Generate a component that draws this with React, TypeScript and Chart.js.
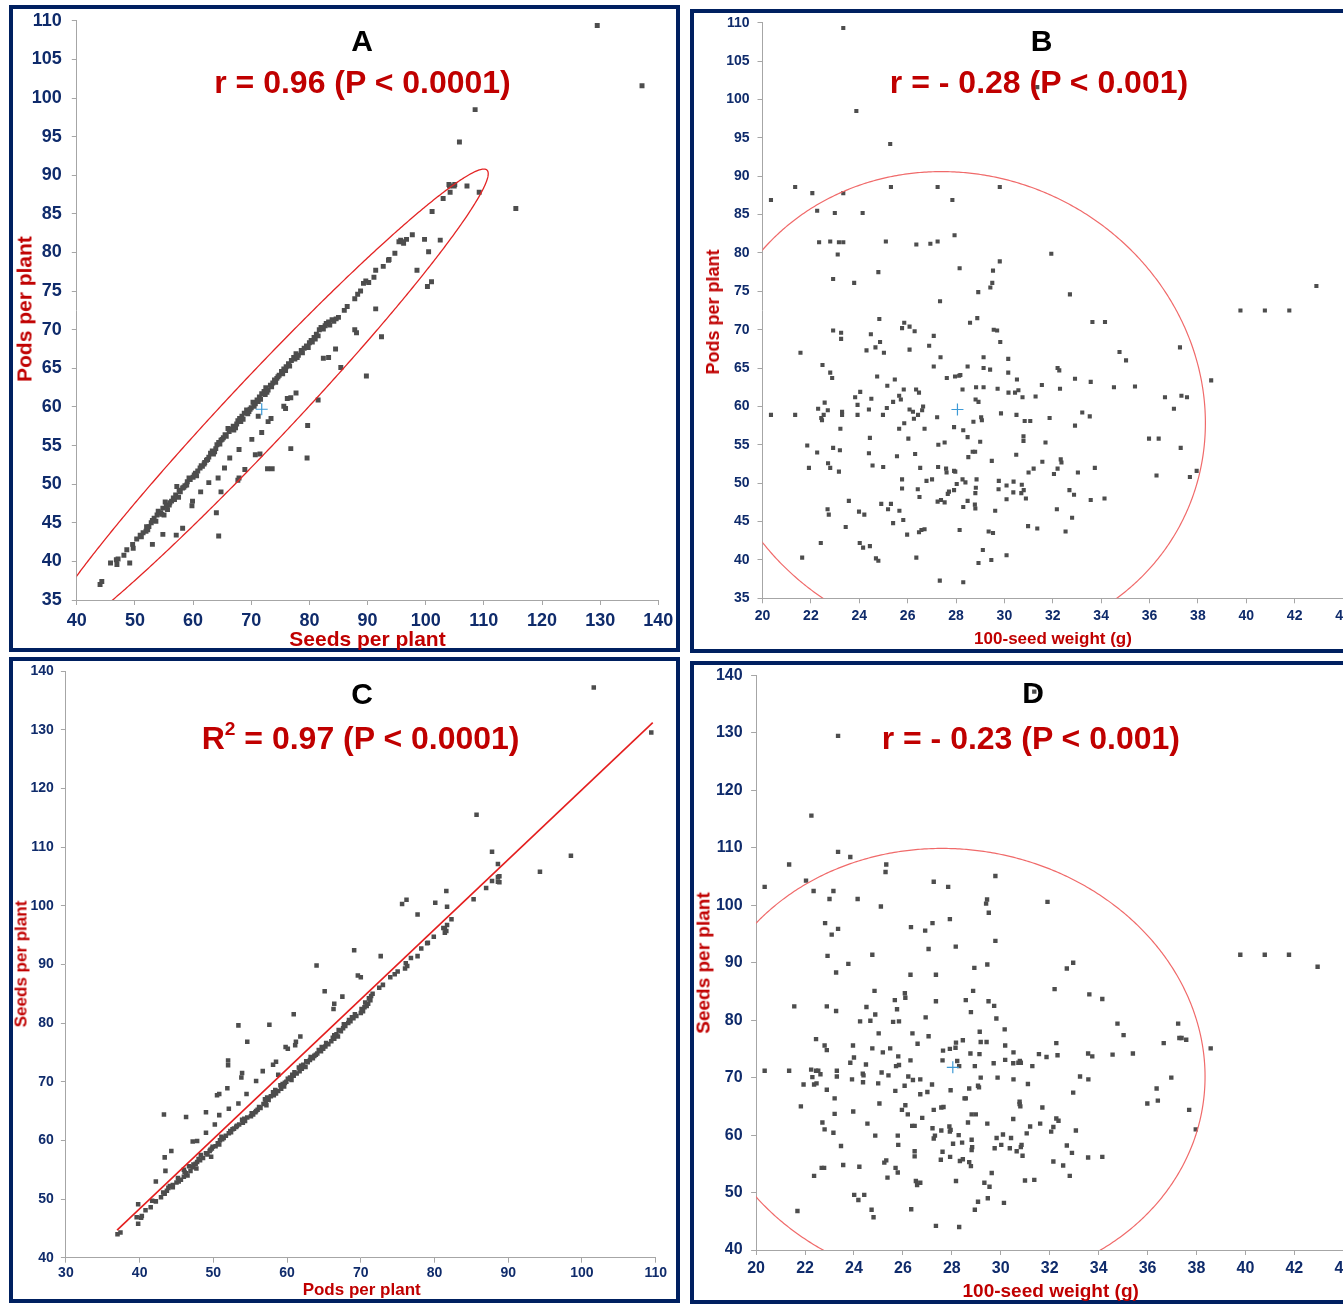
import React, { useEffect, useRef } from "react";
import { Chart, registerables } from "chart.js";

Chart.register(...registerables);

const FONT = '"Liberation Sans", Arial, Helvetica, sans-serif';
const NAVY = "#0f2b6b";
const BORDER = "#002060";
const RED = "#c00000";
const AXIS = "#a6a6a6";
const MARK = "#4d4d4d";

// Panel A / C : [seeds per plant, pods per plant]
const seedsPods: number[][] = [
  [44.0, 37.0], [44.3, 37.4], [45.8, 39.8], [46.8, 40.2], [46.9, 39.6], [47.1, 40.3], [48.1, 40.8], [48.6, 41.5],
  [49.6, 42.2], [49.7, 41.7], [50.9, 43.4], [51.4, 43.7], [51.9, 43.9], [52.2, 44.1], [52.4, 44.5], [52.8, 45.0],
  [53.3, 45.6], [53.6, 45.2], [54.0, 46.5], [54.4, 46.3], [54.8, 46.9], [55.0, 46.0], [55.2, 47.7], [55.6, 46.7],
  [55.9, 47.3], [56.3, 47.8], [56.6, 48.2], [57.0, 48.6], [57.2, 49.7], [57.5, 48.3], [57.8, 49.0], [58.2, 49.5],
  [58.6, 49.8], [59.0, 50.3], [59.5, 50.6], [60.0, 50.9], [60.4, 51.4], [60.8, 51.7], [61.2, 52.1], [61.6, 52.3],
  [62.0, 52.8], [62.3, 53.1], [62.7, 53.5], [63.0, 54.0], [63.3, 54.3], [63.7, 54.2], [64.1, 55.1], [64.4, 55.4],
  [64.8, 55.7], [65.2, 56.0], [65.7, 56.2], [66.0, 57.2], [66.5, 57.1], [66.9, 57.5], [67.3, 57.3], [67.7, 58.2],
  [68.0, 58.5], [68.4, 58.8], [68.8, 59.2], [69.2, 59.6], [69.6, 59.4], [70.0, 59.9], [70.3, 60.6], [70.7, 60.4],
  [71.0, 60.9], [71.4, 61.3], [71.8, 61.7], [72.2, 62.0], [72.5, 62.5], [72.9, 62.2], [73.3, 62.8], [73.7, 63.1],
  [74.0, 63.5], [74.4, 63.7], [74.8, 64.1], [75.2, 64.6], [75.6, 64.9], [76.0, 65.2], [76.4, 65.6], [76.9, 66.0],
  [77.3, 66.4], [77.7, 66.9], [78.1, 66.7], [78.6, 67.3], [79.1, 67.6], [79.5, 67.9], [80.0, 68.3], [80.3, 68.6],
  [80.8, 69.0], [81.2, 69.4], [81.7, 70.0], [82.0, 70.3], [82.4, 70.1], [82.9, 70.8], [83.3, 71.0], [83.5, 70.6],
  [84.2, 71.1], [85.0, 71.6], [86.5, 73.0], [87.8, 74.0], [88.8, 75.0], [89.3, 76.0], [89.7, 76.3], [91.1, 76.8],
  [91.4, 77.7], [92.7, 78.2], [93.6, 79.0], [94.7, 79.9], [95.4, 81.4], [95.7, 81.6], [96.2, 81.2], [96.7, 81.7],
  [97.7, 82.3], [101.1, 85.3], [103.0, 87.0], [104.1, 88.6], [104.2, 87.8], [104.9, 88.6], [107.1, 88.6],
  [53.0, 45.3], [56.0, 47.6], [58.9, 49.9], [60.2, 51.2], [61.9, 52.6], [63.5, 53.9], [65.0, 55.8], [67.0, 57.0],
  [68.6, 58.4], [69.8, 59.7], [71.2, 60.7], [72.7, 61.9], [74.2, 63.2], [75.9, 64.7], [77.5, 66.2], [79.8, 67.7],
  [81.5, 69.2], [83.9, 71.3],
  [50.3, 42.9], [51.1, 43.2], [52.0, 44.5], [53.8, 46.0], [54.6, 46.1], [55.4, 47.2], [56.8, 48.0], [57.6, 49.2],
  [58.4, 49.6], [59.3, 50.8], [60.6, 51.1], [61.4, 52.4], [62.5, 53.2], [63.9, 54.6], [64.6, 55.2], [65.5, 56.4],
  [66.2, 56.8], [67.5, 57.8], [68.2, 58.1], [69.4, 59.1], [70.5, 60.1], [71.6, 61.0], [72.4, 61.6], [73.5, 62.6],
  [74.6, 63.9], [75.4, 64.3], [76.6, 65.3], [77.9, 66.4], [78.8, 67.0], [80.5, 68.4], [81.0, 68.8], [82.7, 70.5],
  [84.6, 71.4], [86.0, 72.5], [88.3, 74.6], [90.2, 76.1],
  [49.1, 39.8], [53.0, 42.2], [54.8, 43.5], [57.1, 43.4], [58.2, 44.3], [59.8, 47.2], [59.9, 47.8], [61.3, 49.0],
  [62.7, 50.2], [64.0, 46.3], [64.4, 43.3], [64.8, 49.0], [64.3, 50.8], [65.4, 52.1], [66.3, 53.4], [67.7, 50.5],
  [67.9, 50.8], [67.9, 54.5], [68.9, 51.9], [70.1, 55.8], [70.7, 53.8], [71.5, 53.9], [71.8, 56.7], [72.8, 52.0],
  [73.6, 52.0], [72.9, 58.1], [73.4, 58.5], [71.2, 58.8], [75.6, 60.1], [75.9, 59.8], [76.2, 61.1], [76.8, 61.2],
  [77.7, 61.8], [76.8, 54.6], [79.6, 53.4], [79.7, 57.6], [81.5, 60.9], [82.4, 66.3], [83.3, 66.4], [84.5, 67.5],
  [85.4, 65.1], [89.8, 64.0], [92.4, 69.1], [87.8, 70.0], [88.1, 69.6], [91.4, 72.7], [98.5, 77.7], [99.8, 81.7],
  [100.5, 80.1], [101.0, 76.2], [100.3, 75.6], [102.5, 81.6], [109.2, 87.8], [115.5, 85.7], [105.8, 94.3],
  [108.5, 98.5], [129.5, 109.4], [137.2, 101.6], [105.0, 88.8], [104.0, 88.8], [96.1, 81.4], [93.7, 79.1],
];

// Panel B : [100-seed weight (g), pods per plant]
const weightPods: number[][] = [
  [23.34, 109.3], [23.88, 98.5], [25.28, 94.2], [31.36, 101.6], [20.35, 86.9], [21.35, 88.6], [22.06, 87.8],
  [23.34, 87.8], [25.31, 88.6], [27.24, 88.6], [29.81, 88.6], [27.85, 86.9], [22.26, 85.5], [22.99, 85.2],
  [24.14, 85.2], [22.34, 81.4], [22.8, 81.5], [23.16, 81.4], [23.34, 81.4], [23.11, 79.8], [25.1, 81.5],
  [26.36, 81.1], [26.94, 81.2], [27.24, 81.5], [27.94, 82.3], [31.94, 79.9], [22.92, 76.6], [23.79, 76.1],
  [24.79, 77.5], [28.15, 78.0], [29.53, 77.7], [29.81, 78.9], [29.5, 76.1], [29.42, 75.5], [28.92, 74.9],
  [27.34, 73.7], [32.71, 74.6], [39.76, 72.5], [40.77, 72.5], [41.78, 72.5], [42.9, 75.7], [24.83, 71.4],
  [25.86, 70.9], [25.77, 70.2], [26.08, 70.4], [26.29, 69.8], [28.58, 70.9], [28.88, 71.5], [29.56, 70.0],
  [29.7, 69.9], [33.64, 71.0], [34.16, 71.0], [22.92, 69.9],
  [20.35, 58.9], [21.35, 58.9], [21.57, 67.0], [23.25, 69.6], [23.25, 68.8], [22.48, 65.4], [22.8, 64.4],
  [22.88, 63.7], [22.3, 59.7], [22.7, 59.5], [22.53, 58.9], [22.43, 58.5], [22.46, 58.2], [22.57, 60.5],
  [23.29, 59.3], [23.29, 58.9], [23.22, 57.1], [21.85, 54.9], [21.92, 52.0], [22.26, 54.0], [22.71, 52.6],
  [22.8, 52.0], [22.92, 54.6], [23.2, 54.3], [23.16, 51.5], [22.41, 42.2], [21.64, 40.3], [22.69, 46.6],
  [22.74, 45.9], [23.57, 47.7], [23.44, 44.3], [23.83, 61.2], [24.04, 61.9], [23.93, 60.2], [23.93, 58.9],
  [24.4, 59.6], [24.5, 61.0], [24.3, 67.3], [24.67, 67.7], [24.48, 69.4], [24.86, 68.4], [25.02, 67.0],
  [24.74, 63.9], [24.44, 55.9], [24.4, 53.9], [24.55, 52.3], [24.99, 52.1], [25.14, 59.8], [24.98, 58.9],
  [25.16, 62.7], [25.47, 63.5], [25.4, 60.6], [25.65, 61.4], [25.72, 60.9], [25.65, 57.1], [25.86, 57.8],
  [25.56, 53.5], [25.77, 50.5], [25.77, 49.3], [26.31, 53.8], [26.03, 55.8], [26.08, 59.6], [26.22, 59.3],
  [26.26, 58.4], [26.43, 58.9], [25.84, 62.2], [26.35, 62.2], [26.47, 61.8], [26.08, 67.4], [26.64, 60.0],
  [26.6, 59.5], [26.7, 57.1], [26.52, 52.0], [26.78, 50.3], [27.01, 50.5], [26.42, 49.2], [26.49, 48.2],
  [24.91, 47.3], [25.31, 47.3], [25.19, 46.6], [25.66, 46.4], [25.4, 44.8], [25.82, 45.2], [25.98, 43.3],
  [26.47, 43.6], [26.57, 43.9], [26.7, 44.0], [23.99, 46.3], [24.21, 45.9], [24.02, 42.2], [24.16, 41.6],
  [24.44, 41.8], [24.69, 40.2], [24.79, 39.9], [26.36, 40.3], [27.33, 37.3], [28.3, 37.1], [28.93, 39.6],
  [29.46, 40.0], [30.09, 40.6], [29.11, 41.3], [29.35, 43.7], [29.53, 43.5], [28.15, 43.9], [28.3, 46.9],
  [28.78, 47.2], [28.48, 47.7], [28.8, 46.7], [29.62, 46.4], [27.24, 47.6], [27.38, 47.8], [27.53, 47.5],
  [27.66, 48.6], [27.71, 48.9], [27.92, 49.1], [28.03, 49.9], [28.27, 50.5], [28.39, 50.1], [27.26, 52.1],
  [27.59, 51.9], [27.61, 51.4], [27.92, 51.6], [27.97, 51.5], [28.85, 50.5], [28.82, 49.4], [28.8, 48.7],
  [29.77, 50.3], [30.09, 49.7], [29.76, 49.2], [30.38, 50.2], [30.72, 49.8], [30.7, 48.7], [30.8, 49.1],
  [30.89, 48.0], [30.09, 47.9], [30.37, 48.8], [31.0, 51.4], [31.21, 51.9], [30.98, 44.4], [31.36, 44.1],
  [32.53, 43.7], [32.17, 46.6], [32.8, 45.5], [32.69, 49.1], [32.88, 48.5], [33.04, 51.4], [33.57, 47.8],
  [34.14, 48.0], [33.74, 52.0], [32.05, 51.2], [32.2, 51.9], [32.36, 52.7], [32.33, 53.1], [31.57, 52.8],
  [31.7, 55.3], [30.79, 55.5], [30.79, 56.1], [30.49, 53.7], [29.48, 52.9], [29.0, 55.4], [28.69, 54.1],
  [28.79, 54.1], [28.51, 53.4], [28.48, 56.0], [28.3, 56.9], [27.92, 57.3], [27.27, 55.0], [27.53, 55.3],
  [27.22, 58.6], [28.72, 58.0], [29.07, 58.2], [29.04, 58.6], [28.81, 60.9], [28.93, 60.6], [28.27, 62.2],
  [27.96, 63.9], [28.13, 64.0], [28.18, 64.1], [27.62, 63.7], [27.08, 65.2], [27.36, 66.4], [26.89, 67.9],
  [27.08, 69.2], [28.48, 65.2], [28.83, 62.5], [29.14, 62.5], [29.14, 66.4], [29.14, 65.0], [29.41, 64.8],
  [29.83, 68.4], [29.72, 62.3], [29.86, 59.1], [30.16, 66.2], [30.16, 64.4], [30.17, 61.8], [30.44, 61.8],
  [30.58, 62.1], [30.52, 63.5], [30.5, 58.9], [30.75, 61.2], [30.84, 58.1], [31.07, 58.1], [31.29, 61.3],
  [31.55, 62.8], [31.87, 58.5], [32.2, 65.0], [32.27, 64.7], [32.3, 62.3], [32.92, 63.6], [32.92, 57.5],
  [33.22, 59.2], [33.53, 58.7], [33.57, 63.2], [34.53, 62.5], [35.4, 62.6], [34.76, 67.1], [35.03, 66.0],
  [35.98, 55.8], [36.38, 55.8], [36.29, 51.0], [36.64, 61.2], [37.01, 59.7], [37.26, 67.7], [37.32, 61.4],
  [37.55, 61.2], [37.29, 54.6], [37.67, 50.8], [37.95, 51.6], [38.55, 63.4],
];

// Panel D : [100-seed weight (g), seeds per plant]
const weightSeeds: number[][] = [
  [31.37, 137.2], [23.35, 129.5], [22.26, 115.6], [23.35, 109.3], [23.85, 108.4], [21.35, 107.1], [25.32, 107.1],
  [25.29, 105.8], [20.35, 103.2], [22.04, 104.3], [22.35, 102.5], [23.16, 102.5], [23.0, 101.1], [24.15, 101.1],
  [25.1, 99.8], [27.26, 104.1], [27.85, 103.2], [29.78, 105.1], [29.44, 101.0], [29.4, 100.3], [29.51, 98.7],
  [31.91, 100.6], [22.82, 96.9], [23.35, 95.9], [23.09, 94.9], [26.33, 96.2], [26.91, 95.6], [27.21, 96.9],
  [27.92, 97.6], [27.05, 92.4], [28.16, 92.8], [29.78, 93.8], [22.92, 91.2], [23.77, 89.8], [23.27, 88.3],
  [24.75, 91.4], [26.31, 87.9], [27.35, 87.9], [28.92, 89.1], [29.45, 89.7], [32.7, 89.0], [32.96, 90.0],
  [39.79, 91.4], [40.79, 91.4], [41.78, 91.4], [42.95, 89.3],
  [20.35, 71.2], [21.35, 71.2], [21.56, 82.4], [21.83, 65.0], [21.69, 46.8], [21.94, 68.8], [22.37, 52.9],
  [22.25, 71.4], [22.3, 70.1], [22.54, 71.2], [22.63, 70.6], [22.45, 71.2], [22.37, 68.8], [22.47, 69.0],
  [22.45, 76.7], [22.8, 75.6], [22.89, 74.8], [22.89, 82.4], [23.27, 81.6], [22.89, 67.9], [22.71, 62.2],
  [22.8, 61.0], [23.16, 60.4], [22.68, 54.3], [22.78, 54.3], [23.21, 66.4], [23.3, 71.2], [23.3, 70.2],
  [23.21, 63.7], [23.47, 58.1], [23.56, 54.8], [23.85, 72.6], [23.96, 75.6], [24.0, 73.5], [23.92, 69.7],
  [23.97, 64.1], [24.25, 79.8], [24.51, 82.3], [24.37, 69.2], [24.36, 70.7], [24.39, 70.4], [24.49, 72.3],
  [24.67, 79.9], [24.87, 81.0], [24.75, 75.1], [24.55, 62.0], [24.22, 54.5], [24.01, 49.6], [24.18, 48.7],
  [24.42, 49.6], [24.72, 47.0], [24.8, 45.7], [24.84, 85.1], [25.01, 77.7], [24.99, 69.0], [25.04, 65.5],
  [24.87, 59.9], [25.13, 70.9], [25.18, 74.4], [25.41, 70.4], [25.48, 75.1], [25.24, 55.2], [25.32, 55.6],
  [25.37, 52.6], [25.67, 83.5], [25.76, 81.9], [25.6, 79.7], [25.84, 79.8], [25.72, 72.0], [25.81, 73.7],
  [25.84, 72.2], [25.69, 67.7], [25.7, 54.3], [25.79, 53.5], [25.79, 59.9], [25.81, 58.3], [25.96, 64.4],
  [26.1, 65.2], [26.08, 84.7], [26.1, 83.9], [26.07, 68.6], [26.2, 63.6], [26.22, 70.2], [26.31, 73.0],
  [26.39, 77.7], [26.41, 69.6], [26.38, 61.6], [26.48, 61.6], [26.48, 57.2], [26.48, 56.3], [26.34, 47.1],
  [26.53, 52.0], [26.58, 51.3], [26.71, 51.7], [26.6, 75.9], [26.71, 69.7], [26.71, 67.1], [26.79, 63.0],
  [26.93, 80.5], [27.0, 67.5], [27.05, 77.2], [27.19, 68.8], [27.26, 64.4], [27.31, 59.9], [27.26, 59.4],
  [27.21, 61.2], [27.35, 83.3], [27.35, 44.2], [27.57, 64.8], [27.66, 64.9], [27.57, 60.8], [27.62, 57.1],
  [27.55, 55.7], [27.64, 74.7], [27.62, 73.0], [27.92, 75.0], [27.95, 67.8], [27.9, 61.5], [27.95, 60.9],
  [27.92, 60.6], [27.93, 56.2], [28.05, 58.5], [28.17, 76.1], [28.15, 75.2], [28.22, 72.9], [28.3, 72.0],
  [28.17, 52.0], [28.28, 60.0], [28.3, 44.0], [28.33, 55.5], [28.45, 55.8], [28.45, 76.5], [28.42, 58.7],
  [28.52, 66.4], [28.57, 66.4], [28.57, 83.5], [28.66, 62.2], [28.71, 68.1], [28.78, 81.4], [28.76, 74.2],
  [28.81, 63.6], [28.98, 63.6], [28.71, 55.3], [28.78, 54.6], [28.81, 59.2], [28.83, 57.9], [28.81, 57.4],
  [28.87, 85.1], [28.94, 72.0], [28.94, 47.0], [29.07, 48.4], [29.07, 68.6], [29.11, 68.3], [29.13, 74.1],
  [29.14, 78.0], [29.18, 76.2], [29.42, 76.2], [29.18, 70.0], [29.33, 51.7], [29.47, 49.0], [29.5, 83.3],
  [29.54, 51.0], [29.45, 62.0], [29.63, 53.4], [29.73, 82.5], [29.71, 72.5], [29.75, 57.7], [29.82, 80.3],
  [29.83, 59.5], [29.87, 70.0], [30.02, 58.3], [30.09, 60.1], [30.13, 48.2], [30.16, 78.4], [30.18, 75.6],
  [30.18, 73.1], [30.37, 57.7], [30.42, 59.5], [30.51, 62.8], [30.52, 74.4], [30.51, 72.5], [30.52, 69.7],
  [30.65, 57.2], [30.72, 72.6], [30.78, 72.9], [30.82, 72.6], [30.77, 65.8], [30.77, 65.4], [30.8, 65.0],
  [30.82, 57.9], [30.85, 58.3], [30.89, 56.4], [30.99, 52.1], [31.06, 60.3], [31.11, 68.9], [31.2, 61.5],
  [31.29, 72.0], [31.37, 52.2], [31.56, 74.1], [31.61, 62.0], [31.7, 64.8], [31.87, 73.6], [32.06, 60.6],
  [32.15, 61.4], [32.15, 55.4], [32.2, 85.4], [32.27, 76.0], [32.32, 73.9], [32.27, 62.9], [32.36, 62.5],
  [32.55, 54.7], [32.7, 58.2], [32.82, 52.9], [32.91, 56.9], [32.96, 67.4], [33.07, 60.8], [33.24, 70.2],
  [33.57, 74.2], [33.58, 69.7], [33.57, 56.1], [33.62, 84.5], [33.74, 73.7], [34.15, 83.7], [34.15, 56.2],
  [34.57, 74.0], [34.77, 79.4], [35.02, 77.4], [35.4, 74.2], [35.99, 65.5], [36.37, 68.1], [36.42, 66.0],
  [36.66, 76.0], [36.97, 70.0], [37.25, 79.4], [37.3, 76.9], [37.39, 76.9], [37.58, 76.6], [37.7, 64.4],
  [37.97, 61.0], [38.58, 75.1],
];

// means (blue crosses)
const meanA = [71.8, 59.7];
const meanB = [28.06, 59.6];
const meanD = [28.04, 71.8];

// regression line of panel C (pods -> seeds)
const fitPods = [36.94, 109.6];
const fitSeeds = [44.7, 131.2];

// confidence ellipses: centre, conjugate semi-axes (data units)
const ellipseA = { cx: 72.0, cy: 59.8, ax: 38.0, ay: 31.0, bx: 7.6, by: 0, color: "#e32424", width: 1.3 };
const ellipseB = { cx: 28.05, cy: 59.8, ax: -0.65, ay: 30.8, bx: 10.24, by: 0, color: "#f06a6a", width: 1.2 };
const ellipseD = { cx: 28.04, cy: 71.8, ax: -0.44, ay: 38.1, bx: 10.3, by: 0, color: "#f06a6a", width: 1.2 };

type Ell = typeof ellipseA;

interface PanelSpec {
  canvas: { left: number; top: number; width: number; height: number };
  plot: { left: number; top: number; right: number; bottom: number };
  yW: number;
  xH: number;
  xMin: number; xMax: number; xStep: number;
  yMin: number; yMax: number; yStep: number;
  tickSize: number; xPad: number; yPad: number;
  points: { x: number; y: number }[];
  radius: number;
  mean?: number[];
  ellipse?: Ell;
  fit?: { x: number[]; y: number[] };
}

const PANELS: PanelSpec[] = [
  {
    canvas: { left: 9, top: 0, width: 672, height: 652 },
    plot: { left: 76.8, top: 18, right: 658.3, bottom: 600 },
    yW: 55, xH: 40,
    xMin: 40, xMax: 140, xStep: 10, yMin: 35, yMax: 110, yStep: 5,
    tickSize: 18, xPad: 5, yPad: 10,
    points: seedsPods.map(([s, p]) => ({ x: s, y: p })),
    radius: 3.5, mean: meanA, ellipse: ellipseA,
  },
  {
    canvas: { left: 690, top: 0, width: 680, height: 653 },
    plot: { left: 762.5, top: 22.7, right: 1343, bottom: 598.3 },
    yW: 50, xH: 40,
    xMin: 20, xMax: 44, xStep: 2, yMin: 35, yMax: 110, yStep: 5,
    tickSize: 14, xPad: 4, yPad: 8,
    points: weightPods.map(([w, p]) => ({ x: w, y: p })),
    radius: 2.9, mean: meanB, ellipse: ellipseB,
  },
  {
    canvas: { left: 9, top: 650, width: 672, height: 653 },
    plot: { left: 65.9, top: 671, right: 655.7, bottom: 1257.7 },
    yW: 45, xH: 35,
    xMin: 30, xMax: 110, xStep: 10, yMin: 40, yMax: 140, yStep: 10,
    tickSize: 14, xPad: 2, yPad: 7,
    points: seedsPods.map(([s, p]) => ({ x: p, y: s })),
    radius: 3.2, fit: { x: fitPods, y: fitSeeds },
  },
  {
    canvas: { left: 690, top: 650, width: 680, height: 654 },
    plot: { left: 756.1, top: 675.5, right: 1343.3, bottom: 1250 },
    yW: 50, xH: 40,
    xMin: 20, xMax: 44, xStep: 2, yMin: 40, yMax: 140, yStep: 10,
    tickSize: 16, xPad: 4, yPad: 8.5,
    points: weightSeeds.map(([w, s]) => ({ x: w, y: s })),
    radius: 3.1, mean: meanD, ellipse: ellipseD,
  },
];

function ellipsePlugin(e?: Ell) {
  return {
    id: "ellipseShape",
    afterDatasetsDraw(chart: any) {
      if (!e) return;
      const { ctx, chartArea: a, scales } = chart;
      const xs = scales.x, ys = scales.y;
      ctx.save();
      ctx.beginPath();
      ctx.rect(a.left, a.top, a.right - a.left, a.bottom - a.top);
      ctx.clip();
      ctx.beginPath();
      for (let i = 0; i <= 720; i++) {
        const t = (i / 720) * Math.PI * 2;
        const px = xs.getPixelForValue(e.cx + e.ax * Math.cos(t) + e.bx * Math.sin(t));
        const py = ys.getPixelForValue(e.cy + e.ay * Math.cos(t) + e.by * Math.sin(t));
        if (i === 0) ctx.moveTo(px, py);
        else ctx.lineTo(px, py);
      }
      ctx.strokeStyle = e.color;
      ctx.lineWidth = e.width;
      ctx.stroke();
      ctx.restore();
    },
  };
}

function buildConfig(p: PanelSpec): any {
  const datasets: any[] = [];
  if (p.mean) {
    datasets.push({
      type: "scatter",
      data: [{ x: p.mean[0], y: p.mean[1] }],
      pointStyle: "cross",
      pointRadius: 6,
      borderColor: "#3d9ad6",
      backgroundColor: "#3d9ad6",
      borderWidth: 1.2,
    });
  }
  if (p.fit) {
    const f = p.fit;
    datasets.push({
      type: "line",
      data: f.x.map((x, i) => ({ x, y: f.y[i] })),
      borderColor: "#e41e1e",
      borderWidth: 1.6,
      pointRadius: 0,
      fill: false,
      tension: 0,
    });
  }
  datasets.push({
    type: "scatter",
    data: p.points,
    pointStyle: "rect",
    pointRadius: p.radius,
    backgroundColor: MARK,
    borderWidth: 0,
  });
  const pad = {
    left: p.plot.left - p.canvas.left - p.yW,
    top: p.plot.top - p.canvas.top,
    right: p.canvas.left + p.canvas.width - p.plot.right,
    bottom: p.canvas.top + p.canvas.height - p.plot.bottom - p.xH,
  };
  const tickFont = { family: FONT, size: p.tickSize, weight: "bold" as const };
  const grid = { display: true, drawOnChartArea: false, drawTicks: true, tickLength: 5, color: AXIS, lineWidth: 1 };
  return {
    type: "scatter",
    data: { datasets },
    options: {
      responsive: false,
      maintainAspectRatio: false,
      animation: false,
      events: [],
      layout: { padding: pad },
      plugins: { legend: { display: false }, tooltip: { enabled: false }, title: { display: false } },
      scales: {
        x: {
          type: "linear",
          position: "bottom",
          min: p.xMin,
          max: p.xMax,
          ticks: { stepSize: p.xStep, autoSkip: false, maxRotation: 0, color: NAVY, font: tickFont, padding: p.xPad },
          grid,
          border: { display: true, color: AXIS, width: 1 },
          afterFit: (s: any) => { s.height = p.xH; },
        },
        y: {
          type: "linear",
          position: "left",
          min: p.yMin,
          max: p.yMax,
          ticks: { stepSize: p.yStep, autoSkip: false, color: NAVY, font: tickFont, padding: p.yPad },
          grid,
          border: { display: true, color: AXIS, width: 1 },
          afterFit: (s: any) => { s.width = p.yW; },
        },
      },
    },
    plugins: [ellipsePlugin(p.ellipse)],
  };
}

const BOXES = [
  { left: 9, top: 5, width: 671, height: 647 },
  { left: 690, top: 9, width: 700, height: 644 },
  { left: 9, top: 657, width: 671, height: 646 },
  { left: 690, top: 661, width: 700, height: 643 },
];

interface TextSpec { x: number; y: number; size: number; color: string; rotate?: boolean; content: React.ReactNode; }

const TEXTS: TextSpec[] = [
  { x: 362, y: 41, size: 30, color: "#000", content: "A" },
  { x: 362.5, y: 82, size: 32, color: RED, content: "r = 0.96 (P < 0.0001)" },
  { x: 367.5, y: 638, size: 21, color: RED, content: "Seeds per plant" },
  { x: 23.5, y: 309, size: 21, color: RED, rotate: true, content: "Pods per plant" },
  { x: 1041.5, y: 41, size: 30, color: "#000", content: "B" },
  { x: 1039, y: 82, size: 32, color: RED, content: "r = - 0.28 (P < 0.001)" },
  { x: 1053, y: 638, size: 17, color: RED, content: "100-seed weight (g)" },
  { x: 712.5, y: 311.5, size: 18, color: RED, rotate: true, content: "Pods per plant" },
  { x: 362, y: 694, size: 30, color: "#000", content: "C" },
  {
    x: 360.6, y: 737.5, size: 32, color: RED,
    content: (
      <>
        R<span style={{ fontSize: "0.6em", position: "relative", top: "-0.72em" }}>2</span> = 0.97 (P &lt; 0.0001)
      </>
    ),
  },
  { x: 361.7, y: 1289, size: 17, color: RED, content: "Pods per plant" },
  { x: 20.5, y: 964, size: 17, color: RED, rotate: true, content: "Seeds per plant" },
  { x: 1033, y: 693, size: 30, color: "#000", content: "D" },
  { x: 1030.8, y: 738, size: 32, color: RED, content: "r = - 0.23 (P < 0.001)" },
  { x: 1050.7, y: 1290, size: 19, color: RED, content: "100-seed weight (g)" },
  { x: 702.5, y: 963, size: 19, color: RED, rotate: true, content: "Seeds per plant" },
];

export default function App() {
  const refs = useRef<(HTMLCanvasElement | null)[]>([]);

  useEffect(() => {
    const charts = PANELS.map((p, i) => new Chart(refs.current[i] as HTMLCanvasElement, buildConfig(p)));
    return () => charts.forEach((c) => c.destroy());
  }, []);

  return (
    <div
      style={{
        position: "absolute",
        left: 0,
        top: 0,
        width: 1343,
        height: 1304,
        overflow: "hidden",
        background: "#ffffff",
        fontFamily: FONT,
      }}
    >
      {BOXES.map((b, i) => (
        <div
          key={"box" + i}
          style={{
            position: "absolute",
            left: b.left,
            top: b.top,
            width: b.width,
            height: b.height,
            border: `4px solid ${BORDER}`,
            boxSizing: "border-box",
          }}
        />
      ))}
      {PANELS.map((p, i) => (
        <canvas
          key={"cv" + i}
          ref={(el) => { refs.current[i] = el; }}
          width={p.canvas.width}
          height={p.canvas.height}
          style={{
            position: "absolute",
            left: p.canvas.left,
            top: p.canvas.top,
            width: p.canvas.width,
            height: p.canvas.height,
          }}
        />
      ))}
      {TEXTS.map((t, i) => (
        <div
          key={"t" + i}
          style={{
            position: "absolute",
            left: t.x,
            top: t.y,
            transform: t.rotate ? "translate(-50%, -50%) rotate(-90deg)" : "translate(-50%, -50%)",
            whiteSpace: "nowrap",
            fontFamily: FONT,
            fontWeight: "bold",
            fontSize: t.size,
            lineHeight: 1,
            color: t.color,
          }}
        >
          {t.content}
        </div>
      ))}
    </div>
  );
}
